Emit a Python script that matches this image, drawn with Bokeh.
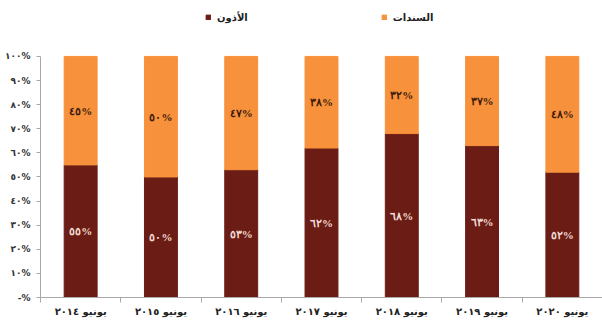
from bokeh.plotting import figure
from bokeh.models import ColumnDataSource, FixedTicker, Legend, LegendItem, LabelSet, Range1d
from bokeh.embed import file_html
from bokeh.resources import INLINE

# ---- data ----
categories = ["يونيو ٢٠١٤", "يونيو ٢٠١٥", "يونيو ٢٠١٦", "يونيو ٢٠١٧",
              "يونيو ٢٠١٨", "يونيو ٢٠١٩", "يونيو ٢٠٢٠"]
adhon = [55, 50, 53, 62, 68, 63, 52]        # الأذون
sanadat = [45, 50, 47, 38, 32, 37, 48]      # السندات
y_ticks = [0, 10, 20, 30, 40, 50, 60, 70, 80, 90, 100]
y_tick_labels = ["-%", "١٠%", "٢٠%", "٣٠%", "٤٠%", "٥٠%", "٦٠%", "٧٠%", "٨٠%", "٩٠%", "١٠٠%"]
series_names = ["الأذون", "السندات"]

AR = str.maketrans("0123456789", "٠١٢٣٤٥٦٧٨٩")
def ar(v):
    return (str(v) + "%").translate(AR)

DARK = "#6B1C14"
ORANGE = "#F7913B"
FONT = "DejaVu Sans"

x = [i + 0.5 for i in range(len(categories))]
src = ColumnDataSource(dict(
    x=x,
    adhon=adhon,
    sanadat=sanadat,
    top1=adhon,
    top2=[a + s for a, s in zip(adhon, sanadat)],
    mid1=[a / 2 for a in adhon],
    mid2=[a + s / 2 for a, s in zip(adhon, sanadat)],
    lab1=[ar(a) for a in adhon],
    lab2=[ar(s) for s in sanadat],
))

# frame spans the full top so the legend sits inside it; axis drawn only over 0..100
p = figure(width=602, height=321, output_backend="svg", toolbar_location=None,
           x_range=Range1d(0, len(categories)), y_range=Range1d(0, 123.2),
           min_border_left=40, min_border_right=0, min_border_top=0, min_border_bottom=24)
p.outline_line_color = None
p.xgrid.visible = False
p.ygrid.visible = False
p.background_fill_color = "white"
p.border_fill_color = "white"

r1 = p.vbar(x="x", bottom=0, top="top1", width=0.41, color=DARK, source=src)
r2 = p.vbar(x="x", bottom="top1", top="top2", width=0.41, color=ORANGE, source=src)

p.add_layout(LabelSet(x="x", y="mid1", text="lab1", source=src, text_align="center",
                      text_baseline="middle", text_font=FONT, text_font_size="11px",
                      text_font_style="bold", text_color="#F3DCD6"))
p.add_layout(LabelSet(x="x", y="mid2", text="lab2", source=src, text_align="center",
                      text_baseline="middle", text_font=FONT, text_font_size="11px",
                      text_font_style="bold", text_color="#3A1A0C"))

# axes
p.yaxis.bounds = (0, 100)
p.yaxis.ticker = FixedTicker(ticks=y_ticks)
p.yaxis.major_label_overrides = {t: l for t, l in zip(y_ticks, y_tick_labels)}
p.yaxis.minor_tick_line_color = None
p.yaxis.major_tick_out = 4
p.yaxis.major_tick_in = 0
p.yaxis.axis_line_color = "#A8A8A8"
p.yaxis.major_tick_line_color = "#A8A8A8"
p.yaxis.major_label_text_font = FONT
p.yaxis.major_label_text_font_size = "9px"
p.yaxis.major_label_text_font_style = "bold"
p.yaxis.major_label_text_color = "#333333"
p.yaxis.major_label_standoff = 6

p.xaxis.ticker = FixedTicker(ticks=x, minor_ticks=list(range(0, len(categories) + 1)))
p.xaxis.major_label_overrides = {xi: c for xi, c in zip(x, categories)}
p.xaxis.major_tick_out = 0
p.xaxis.major_tick_in = 0
p.xaxis.minor_tick_out = 5
p.xaxis.minor_tick_in = 0
p.xaxis.minor_tick_line_color = "#A8A8A8"
p.xaxis.axis_line_color = "#A8A8A8"
p.xaxis.major_label_text_font = FONT
p.xaxis.major_label_text_font_size = "10px"
p.xaxis.major_label_text_font_style = "bold"
p.xaxis.major_label_text_color = "#222222"
p.xaxis.major_label_standoff = 3

legend = Legend(items=[LegendItem(label=series_names[0], renderers=[r1]),
                       LegendItem(label=series_names[1], renderers=[r2])],
                location=(165, 273), orientation="horizontal",
                padding=0, margin=0, spacing=133,
                glyph_width=6, glyph_height=6, label_standoff=6,
                label_text_font=FONT, label_text_font_size="10px",
                label_text_font_style="bold", label_text_color="#222222",
                label_height=14, border_line_color=None, background_fill_alpha=0)
p.add_layout(legend, "center")

open("out.html", "w").write(file_html(p, INLINE))
